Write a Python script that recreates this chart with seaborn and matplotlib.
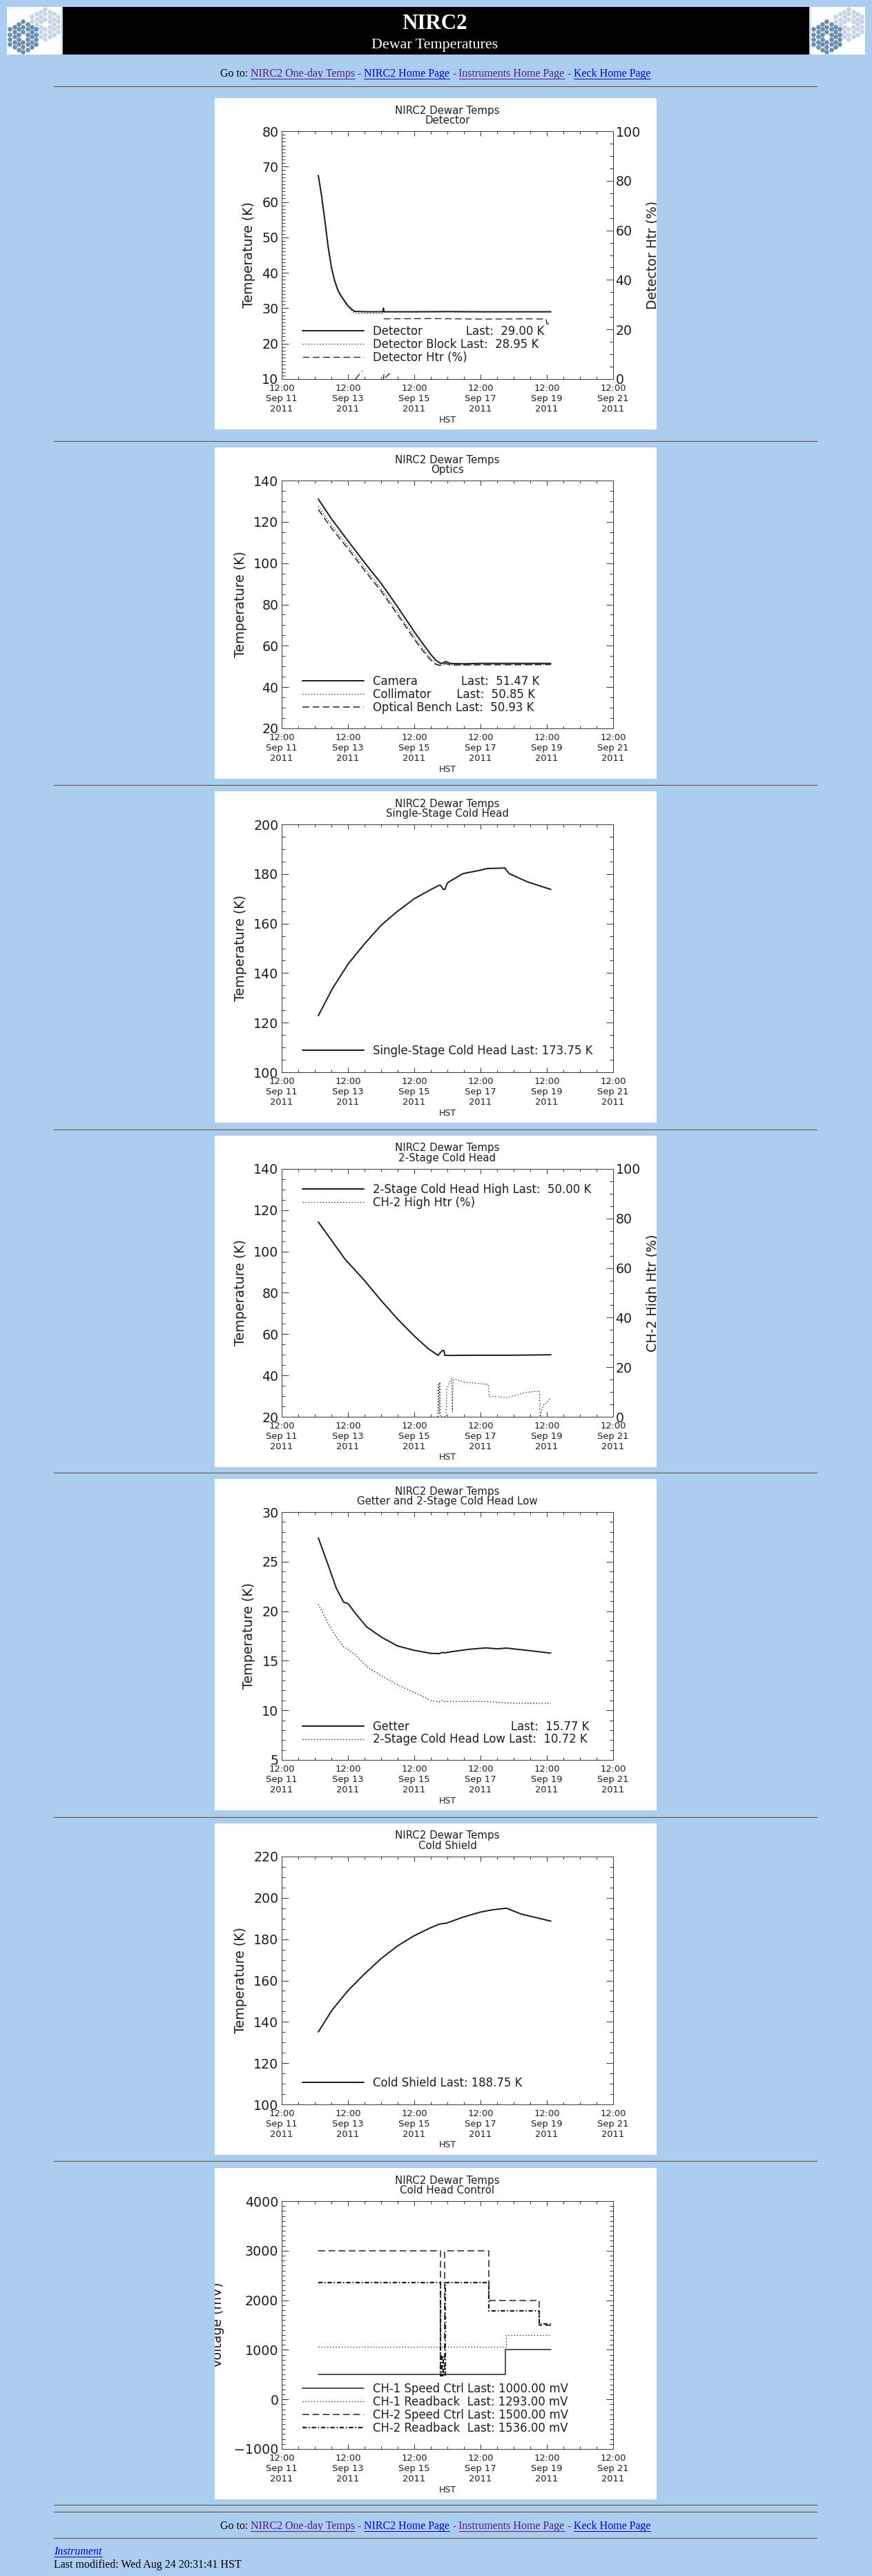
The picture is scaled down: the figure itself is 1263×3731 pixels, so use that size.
import numpy as np
import matplotlib
matplotlib.use("Agg")
import matplotlib.pyplot as plt
import seaborn as sns
from matplotlib.ticker import MultipleLocator, AutoMinorLocator
from matplotlib.lines import Line2D

sns.set_theme(style="white")
plt.rcParams["font.family"] = ["DejaVu Sans"]
plt.rcParams["lines.scale_dashes"] = False

W, H, DPI = 1263, 3731, 100
PT = 72.0 / DPI          # points per pixel
PAGE = "#abcdef"
INK = "#1e1e1e"
AXC = "#3a3a3a"
PURPLE = "#551a8b"
BLUE = "#0000ee"
SERIF = ["Liberation Serif", "DejaVu Serif"]
nan = np.nan

# x axis: days since 12:00 HST, Sep 11 2011
x_ticks = [0, 2, 4, 6, 8, 10]
x_tick_labels = ["12:00\nSep 11\n2011", "12:00\nSep 13\n2011", "12:00\nSep 15\n2011",
                 "12:00\nSep 17\n2011", "12:00\nSep 19\n2011", "12:00\nSep 21\n2011"]

# --- Detector ---
det_t = [1.105, 1.2, 1.3, 1.4, 1.5, 1.6, 1.7, 1.8, 1.9, 2.0, 2.1, 2.2, 2.6, 3.05, 3.07, 3.09,
         4.0, 5.0, 6.0, 7.0, 8.0, 8.12]
det_k = [67.5, 62.0, 55.0, 47.5, 41.6, 37.7, 35.0, 33.4, 32.0, 30.7, 29.8, 29.1, 29.0, 29.0, 30.0, 29.0,
         29.0, 29.05, 29.0, 29.0, 29.0, 29.0]
blk_t = [1.12, 1.2, 1.3, 1.4, 1.5, 1.6, 1.7, 1.8, 1.9, 2.0, 2.1, 2.2, 2.6, 3.05, 3.08, 5.0, 8.12]
blk_k = [66.8, 61.5, 54.5, 47.0, 41.2, 37.3, 34.7, 33.1, 31.7, 30.4, 29.4, 28.6, 28.5, 28.5, 28.95, 28.95, 28.95]
htr_t = [2.22, 2.44, 2.45, 3.06, 3.10, 3.11, 3.12, 3.34, 3.35, 3.08, 4.5, 6.0, 7.5, 7.98, 8.0, 8.12]
htr_p = [0.0, 3.3, nan, -0.8, 3.4, nan, 0.5, 3.3, nan, 24.3, 24.4, 24.2, 24.3, 24.2, 22.3, 22.2]
det_labels = ["Detector" + " " * 12 + "Last:  29.00 K",
              "Detector Block Last:  28.95 K",
              "Detector Htr (%)"]

# --- Optics ---
opt_t = [1.105, 1.5, 2.0, 2.5, 3.0, 3.5, 4.0, 4.25, 4.5, 4.65, 4.75, 4.82, 4.9, 4.95, 5.02, 5.1,
         5.5, 6.0, 7.0, 8.12]
camera_k = [131, 121.5, 110.8, 100.3, 90.2, 78.8, 66.8, 61.2, 55.8, 53.0, 51.9, 51.4, 52.0, 52.4,
            51.9, 51.4, 51.3, 51.5, 51.5, 51.47]
collim_k = [127.5, 118.5, 108.2, 97.8, 87.7, 76.3, 64.4, 58.9, 53.8, 51.5, 50.9, 50.7, 51.3, 51.8,
            51.3, 50.8, 50.8, 50.9, 50.9, 50.85]
bench_k = [126, 117, 107, 96.5, 86.5, 75, 63.2, 57.8, 53.0, 51.0, 50.6, 50.5, 51.0, 51.5,
           51.0, 50.7, 50.7, 50.8, 50.8, 50.93]
opt_labels = ["Camera" + " " * 12 + "Last:  51.47 K",
              "Collimator" + " " * 7 + "Last:  50.85 K",
              "Optical Bench Last:  50.93 K"]

# --- Single-stage cold head ---
ss_t = [1.105, 1.52, 2.0, 2.48, 3.0, 3.49, 4.0, 4.5, 4.76, 4.8, 4.88, 4.93, 5.0, 5.46, 5.99, 6.2,
        6.5, 6.74, 6.78, 6.87, 7.4, 8.12]
ss_k = [122.8, 133.5, 143.6, 151.5, 159.3, 164.9, 170.0, 173.7, 175.5, 175.3, 173.7, 173.9, 176.4,
        180.1, 181.5, 182.2, 182.3, 182.4, 181.5, 180.1, 176.9, 173.75]
ss_labels = ["Single-Stage Cold Head Last: 173.75 K"]

# --- 2-stage cold head ---
ch2_t = [1.105, 1.5, 1.91, 2.48, 3.0, 3.49, 4.0, 4.42, 4.72, 4.80, 4.86, 4.9, 4.92, 5.0, 6.0, 7.0, 8.12]
ch2_k = [114.3, 105.5, 96.3, 86.3, 76.3, 67.4, 59.1, 53.0, 49.7, 51.3, 52.2, 52.0, 49.8, 49.7, 49.8,
         49.8, 50.0]
ch2htr_t = [4.71, 4.73, 4.75, 4.77, 4.79, 4.96, 4.98, 5.05, 5.13, 5.15, 5.17, 5.22, 5.45, 5.6, 5.85,
            6.24, 6.26, 6.5, 6.78, 7.05, 7.35, 7.78, 7.80, 7.84, 7.92, 8.0, 8.1]
ch2htr_p = [0, 13.5, 1, 14, 0, 0, 11, 13.5, 15.5, 2, 14.8, 15.2, 14.2, 13.8, 13.6,
            13.0, 8.0, 8.2, 7.6, 8.6, 9.8, 10.4, 0, 2.5, 5.3, 5.6, 7.6]
ch2_labels = ["2-Stage Cold Head High Last:  50.00 K", "CH-2 High Htr (%)"]

# --- Getter and 2-stage low ---
get_t = [1.105, 1.43, 1.65, 1.87, 1.95, 2.02, 2.22, 2.57, 3.0, 3.49, 4.0, 4.5, 4.76, 4.85, 4.9,
         5.2, 5.64, 6.17, 6.5, 6.78, 7.4, 8.12]
getter_k = [27.4, 24.4, 22.3, 20.9, 20.85, 20.7, 19.8, 18.4, 17.4, 16.5, 16.05, 15.75, 15.72, 15.85,
            15.8, 15.95, 16.15, 16.3, 16.2, 16.28, 16.05, 15.77]
low_k = [20.7, 18.6, 17.4, 16.4, 16.25, 16.1, 15.6, 14.4, 13.5, 12.6, 11.8, 11.0, 10.85, 11.0,
         10.9, 10.9, 10.9, 10.9, 10.8, 10.75, 10.7, 10.72]
get_labels = ["Getter" + " " * 28 + "Last:  15.77 K", "2-Stage Cold Head Low Last:  10.72 K"]

# --- Cold shield ---
cs_t = [1.105, 1.52, 2.0, 2.48, 3.0, 3.49, 4.0, 4.5, 4.76, 4.98, 5.46, 5.99, 6.34, 6.78, 7.22, 8.12]
cs_k = [135.1, 145.7, 155.1, 162.9, 170.6, 176.7, 181.7, 185.6, 187.3, 187.8, 190.6, 193.1, 194.2,
        195.0, 192.2, 188.75]
cs_labels = ["Cold Shield Last: 188.75 K"]

# --- Cold head control (step signals) ---
ch1_ctrl_t = [1.105, 6.76, 8.12]
ch1_ctrl_mv = [500, 1000, 1000]
ch1_rb_t = [1.105, 6.78, 8.12]
ch1_rb_mv = [1060, 1300, 1293]
ch2_ctrl_t = [1.105, 4.79, 4.92, 6.24, 7.77, 8.12]
ch2_ctrl_mv = [3000, 500, 3000, 2000, 1500, 1500]
ch2_rb_t = [1.105, 4.80, 4.84, 4.88, 4.93, 6.25, 7.78, 8.12]
ch2_rb_mv = [2360, 480, 880, 480, 2360, 1790, 1520, 1536]
ctl_labels = ["CH-1 Speed Ctrl Last: 1000.00 mV", "CH-1 Readback  Last: 1293.00 mV",
              "CH-2 Speed Ctrl Last: 1500.00 mV", "CH-2 Readback  Last: 1536.00 mV"]

SOLID = "-"
DOT = (0, (1.0, 2.0))
DASH = (0, (7.0, 3.6))
DASHDOT = (0, (4.5, 2.0, 1.2, 2.0))

fig = plt.figure(figsize=(W / DPI, H / DPI), dpi=DPI)
fig.patch.set_facecolor(PAGE)
renderer = fig.canvas.get_renderer()


def rect(x, y, w, h):
    return [x / W, 1 - (y + h) / H, w / W, h / H]


def fx(x):
    return x / W


def fy(y):
    return 1 - y / H


def blank(ax, color="white"):
    ax.set_facecolor(color)
    ax.set_xticks([])
    ax.set_yticks([])
    for s in ax.spines.values():
        s.set_visible(False)


def hr(y):
    fig.add_artist(Line2D([fx(78), fx(1183)], [fy(y), fy(y)], color="#5a5a5a", lw=1.3 * PT))
    fig.add_artist(Line2D([fx(78), fx(1183)], [fy(y + 1.3), fy(y + 1.3)], color="#c9c9c9", lw=1.0 * PT))


def nav(baseline):
    pieces = [("Go to:", "black", False), ("NIRC2 One-day Temps", PURPLE, True), ("-", "black", False),
              ("NIRC2 Home Page", BLUE, True), ("-", "black", False),
              ("Instruments Home Page", PURPLE, True), ("-", "black", False),
              ("Keck Home Page", BLUE, True)]
    texts = [fig.text(0, fy(baseline), s, color=c, fontsize=16 * PT, family=SERIF,
                      ha="left", va="baseline") for s, c, u in pieces]
    widths = [t.get_window_extent(renderer).width for t in texts]
    gap = 4.0
    x = 630.5 - (sum(widths) + gap * (len(widths) - 1)) / 2
    for t, w, (s, c, u) in zip(texts, widths, pieces):
        t.set_x(fx(x))
        if u:
            fig.add_artist(Line2D([fx(x), fx(x + w)], [fy(baseline + 2.5)] * 2, color=c, lw=1.0 * PT))
        x += w + gap


def logo(x0):
    lax = fig.add_axes(rect(x0, 10, 79, 69))
    blank(lax)
    lax.set_xlim(0, 79)
    lax.set_ylim(69, 0)
    a = 4.22
    for cx, cy, col in [(55.3, 25.0, "#c6d5e5"), (23.3, 43.3, "#6a8db4")]:
        pts = [(cx + 1.5 * a * q, cy + np.sqrt(3) * a * (r + q / 2))
               for q in range(-3, 4) for r in range(-3, 4)
               if 1 <= max(abs(q), abs(r), abs(q + r)) <= 3]
        xs, ys = zip(*pts)
        lax.scatter(xs, ys, marker="H", s=(7.3 * PT) ** 2, color=col, linewidths=0)


def style_y(ax, step, nminor, pad=4.5):
    ax.yaxis.set_major_locator(MultipleLocator(step))
    ax.yaxis.set_minor_locator(AutoMinorLocator(nminor))
    ax.tick_params(axis="y", which="major", length=9.6 * PT, width=1.0 * PT, labelsize=19 * PT,
                   pad=pad * PT, colors=AXC, labelcolor=INK, direction="in")
    ax.tick_params(axis="y", which="minor", length=4.8 * PT, width=1.0 * PT, colors=AXC, direction="in")


def panel(top, subtitle, ylim, step, nminor, ylabel, twin=False, ylabelpad=9):
    bg = fig.add_axes(rect(311, top, 640, 480))
    blank(bg)
    ax = fig.add_axes(rect(408, top + 48, 480, 359))
    ax.patch.set_alpha(0)
    ax.grid(False)
    ax.set_xlim(0, 10)
    ax.set_ylim(*ylim)
    ax.set_xticks(x_ticks, x_tick_labels)
    ax.xaxis.set_minor_locator(MultipleLocator(0.5))
    for s in ax.spines.values():
        s.set_color(AXC)
        s.set_linewidth(1.0 * PT)
    ax.tick_params(axis="x", which="major", length=7.2 * PT, width=1.0 * PT, labelsize=13 * PT,
                   pad=7 * PT, colors=AXC, labelcolor=INK, direction="in", top=True, bottom=True)
    ax.tick_params(axis="x", which="minor", length=3.6 * PT, width=1.0 * PT, colors=AXC,
                   direction="in", top=True, bottom=True)
    style_y(ax, step, nminor)
    ax.tick_params(axis="y", which="both", left=True, right=not twin)
    ax.set_xlabel("HST", fontsize=12.5 * PT, color=INK, labelpad=2.5 * PT)
    ax.set_ylabel(ylabel, fontsize=19 * PT, color=INK, labelpad=ylabelpad * PT)
    ax.yaxis.label.set_clip_on(True)
    ax.yaxis.label.set_clip_box(bg.bbox)
    ax.text(0.5, 1 + (48 - 18) / 359, "NIRC2 Dewar Temps", transform=ax.transAxes, ha="center",
            va="center", fontsize=15 * PT, color=INK)
    ax.text(0.5, 1 + (48 - 32.5) / 359, subtitle, transform=ax.transAxes, ha="center",
            va="center", fontsize=15 * PT, color=INK)
    ax2 = None
    if twin:
        ax2 = ax.twinx()
        ax2.grid(False)
        ax2.set_ylim(0, 100)
        for s in ax2.spines.values():
            s.set_color(AXC)
            s.set_linewidth(1.0 * PT)
        style_y(ax2, 20, 4, pad=3.5)
        ax2.tick_params(axis="y", which="both", right=True, left=False)
    return bg, ax, ax2


def right_label(ax2, bg, text):
    ax2.set_ylabel(text, fontsize=19 * PT, color=INK, labelpad=8 * PT, rotation=90)
    ax2.yaxis.label.set_clip_on(True)
    ax2.yaxis.label.set_clip_box(bg.bbox)


def trace(ax, t, v, ls=SOLID, lw=2.0, step=False):
    if step:
        ax.plot(t, v, color=INK, linestyle=ls, linewidth=lw * PT, drawstyle="steps-post")
    elif np.isnan(np.asarray(v, dtype=float)).any():
        ax.plot(t, v, color=INK, linestyle=ls, linewidth=lw * PT)
    else:
        sns.lineplot(x=t, y=v, ax=ax, color=INK, linestyle=ls, linewidth=lw * PT,
                     estimator=None, sort=False, legend=False)
    return ax.lines[-1]


def legend(ax_top, ax_ref, handles, labels, yrel):
    yfrac = 1 - (yrel - 48) / 359
    ax_top.legend(handles, labels, loc="center left", bbox_to_anchor=(0.0625, yfrac),
                  bbox_transform=ax_ref.transAxes, frameon=False, fontsize=16.5 * PT,
                  handlelength=89 / 16.5, handletextpad=13 / 16.5, borderpad=0, borderaxespad=0,
                  labelspacing=0.05, labelcolor=INK)


# ---------------- page header ----------------
logo(10)
logo(1174)
banner = fig.add_axes(rect(91, 10, 1081, 69))
blank(banner, "black")
fig.text(fx(630), fy(41.7), "NIRC2", color="white", fontsize=31 * PT, family=SERIF,
         weight="bold", ha="center", va="baseline")
fig.text(fx(630), fy(70), "Dewar Temperatures", color="white", fontsize=22 * PT, family=SERIF,
         ha="center", va="baseline")
nav(111)
for y in [124.5, 638.5, 1137, 1636, 2133, 2632, 3130, 3628, 3638, 3676]:
    hr(y)

tops = [142, 648, 1146, 1645, 2142, 2641, 3140]

# 1 Detector
bg, ax, ax2 = panel(tops[0], "Detector", (10, 80), 10, 10, "Temperature (K)", twin=True)
right_label(ax2, bg, "Detector Htr (%)")
h1 = trace(ax, det_t, det_k)
h2 = trace(ax, blk_t, blk_k, DOT, 1.2)
h3 = trace(ax2, htr_t, htr_p, DASH, 1.3)
legend(ax2, ax, [h1, h2, h3], det_labels, 357)

# 2 Optics
bg, ax, _ = panel(tops[1], "Optics", (20, 140), 20, 4, "Temperature (K)")
h1 = trace(ax, opt_t, camera_k)
h2 = trace(ax, opt_t, collim_k, DOT, 1.2)
h3 = trace(ax, opt_t, bench_k, DASH, 1.5)
legend(ax, ax, [h1, h2, h3], opt_labels, 358)

# 3 Single-stage cold head
bg, ax, _ = panel(tops[2], "Single-Stage Cold Head", (100, 200), 20, 4, "Temperature (K)")
h1 = trace(ax, ss_t, ss_k)
legend(ax, ax, [h1], ss_labels, 375.7)

# 4 2-stage cold head
bg, ax, ax2 = panel(tops[3], "2-Stage Cold Head", (20, 140), 20, 4, "Temperature (K)", twin=True)
right_label(ax2, bg, "CH-2 High Htr (%)")
h1 = trace(ax, ch2_t, ch2_k)
h2 = trace(ax2, ch2htr_t, ch2htr_p, DOT, 1.2)
legend(ax2, ax, [h1, h2], ch2_labels, 87.5)

# 5 Getter and 2-stage low
bg, ax, _ = panel(tops[4], "Getter and 2-Stage Cold Head Low", (5, 30), 5, 5, "Temperature (K)")
h1 = trace(ax, get_t, getter_k)
h2 = trace(ax, get_t, low_k, DOT, 1.4)
legend(ax, ax, [h1, h2], get_labels, 368)

# 6 Cold shield
bg, ax, _ = panel(tops[5], "Cold Shield", (100, 220), 20, 4, "Temperature (K)")
h1 = trace(ax, cs_t, cs_k)
legend(ax, ax, [h1], cs_labels, 375.7)

# 7 Cold head control
bg, ax, _ = panel(tops[6], "Cold Head Control", (-1000, 4000), 1000, 10, "Voltage (mV)",
                  ylabelpad=14)
h1 = trace(ax, ch1_ctrl_t, ch1_ctrl_mv, SOLID, 1.5, step=True)
h2 = trace(ax, ch1_rb_t, ch1_rb_mv, DOT, 1.2, step=True)
h3 = trace(ax, ch2_ctrl_t, ch2_ctrl_mv, DASH, 1.5, step=True)
h4 = trace(ax, ch2_rb_t, ch2_rb_mv, DASHDOT, 2.2, step=True)
legend(ax, ax, [h1, h2, h3, h4], ctl_labels, 348.5)

# ---------------- footer ----------------
nav(3663.3)
t = fig.text(fx(78), fy(3700), "Instrument", color=BLUE, fontsize=16 * PT, family=SERIF,
             style="italic", ha="left", va="baseline")
w = t.get_window_extent(renderer).width
fig.add_artist(Line2D([fx(78), fx(78 + w)], [fy(3702.7)] * 2, color=BLUE, lw=1.0 * PT))
fig.text(fx(78), fy(3719), "Last modified: Wed Aug 24 20:31:41 HST", color="black",
         fontsize=16 * PT, family=SERIF, ha="left", va="baseline")

fig.savefig("out.png", dpi=DPI, facecolor=PAGE)
